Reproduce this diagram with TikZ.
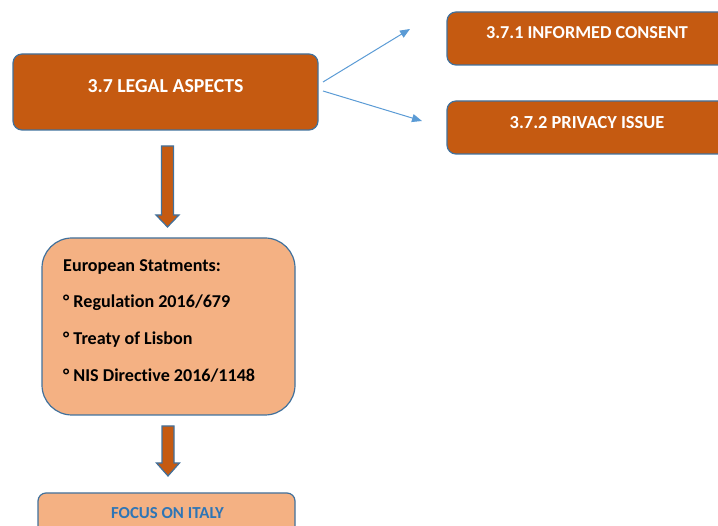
\documentclass[tikz,border=0pt]{standalone}
\usepackage{fontspec}
\setmainfont[Ligatures={NoCommon}]{Carlito}
\usetikzlibrary{calc,arrows.meta}
\definecolor{darkor}{HTML}{C55A11}
\definecolor{lightor}{HTML}{F4B183}
\definecolor{bordblue}{HTML}{41719C}
\definecolor{linkblue}{HTML}{5B9BD5}
\definecolor{textblue}{HTML}{2E75B6}
\tikzset{
  darkbox/.style={draw=bordblue, line width=1.2pt, fill=darkor, rounded corners=9pt},
  lightbox/.style={draw=bordblue, line width=1.2pt, fill=lightor},
  headtxt/.style={text=white, inner sep=0pt},
  listtxt/.style={text=black, font=\bfseries\fontsize{18.1}{22}\selectfont, inner sep=0pt, anchor=base west},
  thinarrow/.style={draw=linkblue, line width=1pt, -{Triangle[length=10pt,width=8pt]}},
  blockarrow/.style={draw=bordblue, line width=1.2pt, fill=darkor, line join=miter},
}
\begin{document}
\begin{tikzpicture}[x=1pt,y=-1pt]
\useasboundingbox (0,0) rectangle (718,526);
\clip (0,0) rectangle (718,526);
% boxes
\draw[darkbox] (13,54) rectangle (318,130);
\node[headtxt, font=\bfseries\fontsize{19.8}{22}\selectfont] (legal) at (165.5,86) {3.7 LEGAL ASPECTS};
\draw[darkbox] (447,12) rectangle (740,65);
\node[headtxt, font=\bfseries\fontsize{18.2}{22}\selectfont] (consent) at (587,33) {3.7.1 INFORMED CONSENT};
\draw[darkbox] (447,101) rectangle (740,154);
\node[headtxt, font=\bfseries\fontsize{18.4}{22}\selectfont] (privacy) at (587,123) {3.7.2 PRIVACY ISSUE};
\draw[lightbox, rounded corners=30pt] (42,238) rectangle (295,415);
\node[listtxt] (e1) at (63,272) {European Statments:};
\node[listtxt] (e2) at (63,308) {° Regulation 2016/679};
\node[listtxt] (e3) at (63,345) {° Treaty of Lisbon};
\node[listtxt] (e4) at (63,382) {° NIS Directive 2016/1148};
\draw[lightbox, rounded corners=8pt] (38,493) rectangle (295,560);
\node[text=textblue, font=\bfseries\fontsize{16.8}{20}\selectfont, inner sep=0pt] (italy) at (167.5,513) {FOCUS ON ITALY};
% thin arrows
\coordinate (s1) at (323,82);
\coordinate (t1) at (410,29);
\coordinate (s2) at (323,91);
\coordinate (t2) at (422,121);
\draw[thinarrow] (s1) -- (t1);
\draw[thinarrow] (s2) -- (t2);
% block arrows
\draw[blockarrow] (161.5,146) -- (173.5,146) -- (173.5,215) -- (179,215) -- (167.5,227) -- (156,215) -- (161.5,215) -- cycle;
\draw[blockarrow] (162,426) -- (174,426) -- (174,463) -- (179.5,463) -- (168,476) -- (156.5,463) -- (162,463) -- cycle;
\end{tikzpicture}
\end{document}
